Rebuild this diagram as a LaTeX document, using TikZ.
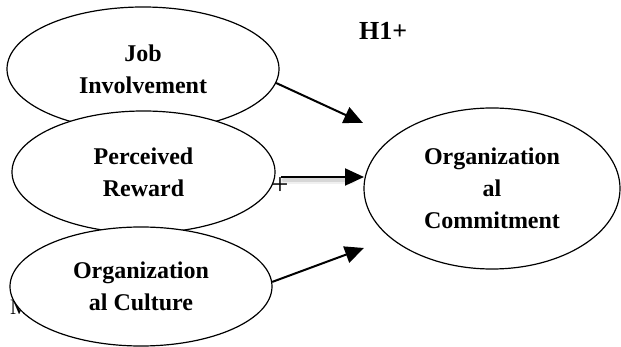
\documentclass[tikz,border=0pt]{standalone}
\usepackage{fontspec}
\setmainfont{Liberation Serif}
\usetikzlibrary{arrows.meta,shapes.geometric}
\begin{document}
\begin{tikzpicture}[x=1pt,y=-1pt,
  construct/.style={ellipse,draw,fill=white,line width=1.2pt,inner sep=0pt,
    align=center,font=\fontsize{24}{32}\selectfont\bfseries},
  link/.style={line width=2pt,-{Triangle[length=19pt,width=17pt]}},
  shadowline/.style={line width=3pt,draw=black,line cap=round}
]
\fill[white] (0,0) rectangle (621,347);
\useasboundingbox (0,0) rectangle (621,347);
% hidden letter behind the culture ellipse
\node[anchor=base west,inner sep=0pt,font=\fontsize{22}{26}\selectfont] (hid) at (10,315) {M};
\node[construct,minimum width=272pt,minimum height=124pt] (job) at (143,69) {Job\\Involvement};
\node[construct,minimum width=263pt,minimum height=122pt] (rew) at (143.5,172) {Perceived\\Reward};
\node[construct,minimum width=262pt,minimum height=119pt] (cul) at (141,286.5) {Organization\\al Culture};
\node[construct,minimum width=256pt,minimum height=161pt] (com) at (492,188.5) {Organization\\al\\Commitment};
\node[anchor=base west,inner sep=0pt,font=\fontsize{26}{30}\selectfont\bfseries] (h1) at (359,40) {H1+};
\node[inner sep=0pt,font=\fontsize{30}{34}\selectfont] (plus) at (280,186) {+};
% free ends of the connectors
\coordinate (t1) at (363,123);
\coordinate (s2) at (281,177);
\coordinate (t2) at (364,177);
\coordinate (t3) at (364,248);
% shadow of middle arrow
\coordinate (sh1) at (284,180.5);
\coordinate (sh2) at (352,180.5);
\draw[shadowline,opacity=0.06,line width=7pt] (sh1) -- (sh2);
\draw[shadowline,opacity=0.10,line width=4pt] (sh1) -- (sh2);
\draw[link] (job.-6) -- (t1);
\draw[link] (s2) -- (t2);
\draw[link] (cul.2) -- (t3);
\end{tikzpicture}
\end{document}
